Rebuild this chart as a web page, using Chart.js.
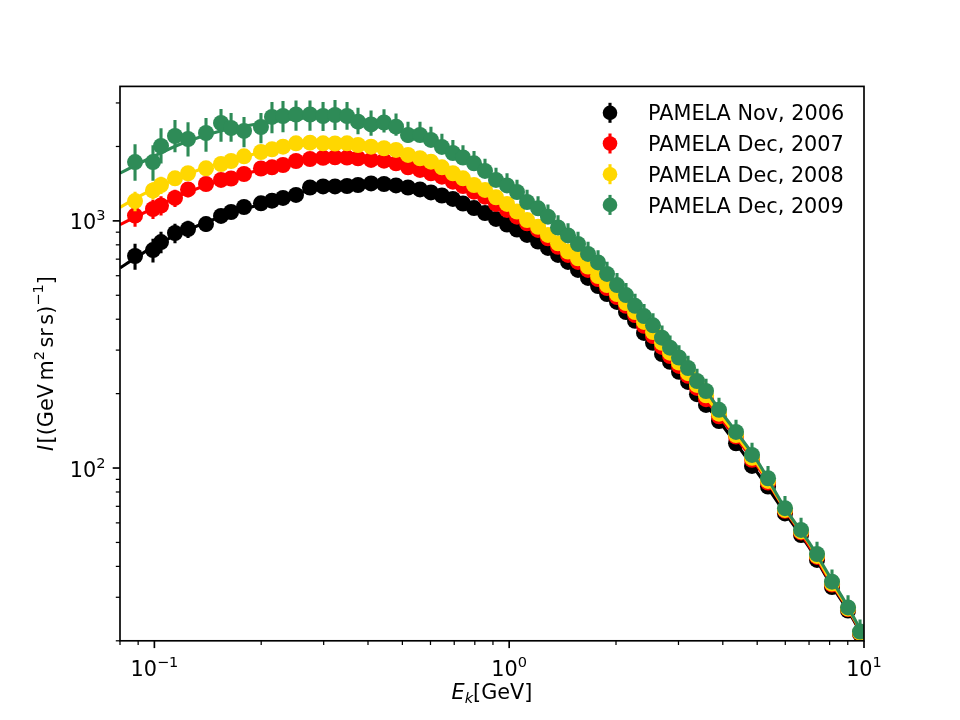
<!DOCTYPE html>
<html>
<head>
<meta charset="utf-8">
<title>PAMELA proton spectra</title>
<script src="https://cdn.jsdelivr.net/npm/chart.js@4.4.0/dist/chart.umd.min.js"></script>
<style>
  html, body { margin: 0; padding: 0; background: #fff; }
  #wrap { width: 960px; height: 720px; }
</style>
</head>
<body>
<div id="wrap"><canvas id="chart" width="960" height="720"></canvas></div>
<script>
// kinetic energy bins (GeV), shared by the four periods
const energy = [
  0.0882, 0.0991, 0.1044, 0.1143, 0.1244, 0.1398, 0.1541, 0.1645, 0.1789, 0.1997,
  0.2145, 0.2304, 0.2507, 0.2745, 0.2988, 0.3229, 0.3491, 0.3749, 0.4080, 0.4438,
  0.4798, 0.5186, 0.5605, 0.6018, 0.6462, 0.6939, 0.7409, 0.7959, 0.8547, 0.9180,
  0.9860, 1.052, 1.123, 1.206, 1.286, 1.373, 1.465, 1.563, 1.668, 1.780,
  1.887, 2.013, 2.134, 2.263, 2.399, 2.543, 2.696, 2.840, 3.010, 3.192,
  3.383, 3.587, 3.902, 4.358, 4.835, 5.364, 5.988, 6.646, 7.372, 8.125,
  9.016, 9.745
];

const fluxNov2006 = [
  721, 762, 821, 893, 927, 971, 1047, 1086, 1138, 1178,
  1207, 1238, 1273, 1365, 1378, 1378, 1384, 1397, 1417, 1410,
  1391, 1365, 1340, 1303, 1267, 1227, 1176, 1127, 1076, 1018,
  967, 923, 877, 825, 777, 728, 682, 633, 588, 545,
  506, 470, 428, 394, 352, 321, 289, 269, 245, 223,
  199, 180, 155, 126, 102, 84.2, 65.5, 53.6, 42.5, 33.0,
  26.5, 21.3
];
const fluxDec2007 = [
  1051, 1117, 1154, 1238, 1340, 1410, 1464, 1484, 1548, 1629,
  1647, 1683, 1747, 1780, 1801, 1808, 1804, 1792, 1764, 1752,
  1710, 1647, 1607, 1558, 1510, 1441, 1384, 1313, 1253, 1171,
  1107, 1040, 978, 919, 850, 786, 728, 682, 633, 582,
  535, 492, 453, 416, 376, 342, 309, 284, 259, 236,
  211, 190, 162, 134, 108, 87.4, 67.1, 54.9, 43.7, 33.8,
  26.9, 21.5
];
const fluxDec2008 = [
  1203, 1327, 1397, 1487, 1558, 1632, 1699, 1747, 1825, 1900,
  1948, 1996, 2060, 2072, 2060, 2056, 2060, 2028, 1996, 1967,
  1936, 1848, 1792, 1736, 1647, 1558, 1487, 1397, 1334, 1246,
  1171, 1090, 1008, 947, 877, 812, 751, 706, 653, 598,
  550, 506, 465, 428, 390, 355, 321, 293, 267, 242,
  217, 197, 166, 136, 110, 88.7, 67.7, 55.4, 44.1, 34.1,
  27.0, 21.6
];
const fluxDec2009 = [
  1730, 1730, 2009, 2205, 2144, 2268, 2489, 2376, 2311, 2398,
  2633, 2657, 2694, 2694, 2657, 2682, 2657, 2519, 2455, 2501,
  2405, 2226, 2226, 2125, 1991, 1882, 1805, 1710, 1592, 1464,
  1391, 1309, 1192, 1124, 1040, 940, 873, 806, 735, 679,
  610, 550, 501, 453, 412, 378, 337, 307, 280, 254,
  225, 205, 172, 140, 113, 90.9, 68.8, 56.2, 44.9, 34.7,
  27.3, 21.8
];

// error bars in percent of the flux
const errNov2006 = [
  12, 11, 10, 9, 8, 7, 6, 6, 5, 5,
  5, 5, 5, 4, 4, 4, 4, 4, 4, 4,
  4, 4, 4, 4, 4, 4, 4, 4, 4, 4,
  4, 4, 4, 4, 4, 4, 4, 4, 4, 4,
  4, 4, 4, 4, 4, 4, 4, 4, 4, 4,
  4, 4, 4, 4, 4, 4, 4, 4, 4, 4,
  4, 4
];
const errDec2007 = [
  10, 9, 9, 8, 7, 6, 6, 5, 5, 5,
  4, 4, 4, 4, 4, 4, 4, 4, 4, 4,
  4, 4, 4, 4, 4, 4, 4, 4, 4, 4,
  4, 4, 4, 4, 4, 4, 4, 4, 4, 4,
  4, 4, 4, 4, 4, 4, 4, 4, 4, 4,
  4, 4, 4, 4, 4, 4, 4, 4, 4, 4,
  4, 4
];
const errDec2008 = [
  9, 8, 8, 7, 7, 6, 5, 5, 5, 4,
  4, 4, 4, 4, 4, 4, 4, 4, 4, 4,
  4, 4, 4, 4, 4, 4, 4, 4, 4, 4,
  4, 4, 4, 4, 4, 4, 4, 4, 4, 4,
  4, 4, 4, 4, 4, 4, 4, 4, 4, 4,
  4, 4, 4, 4, 4, 4, 4, 4, 4, 4,
  4, 4
];
const errUpDec2009 = [
  18, 17, 18, 16, 17, 15, 14, 15, 14, 14,
  15, 15, 14, 14, 14, 15, 14, 14, 14, 13,
  13, 13, 13, 13, 13, 13, 12, 12, 12, 12,
  12, 12, 12, 12, 12, 12, 12, 12, 12, 12,
  12, 12, 12, 12, 12, 12, 12, 12, 12, 12,
  12, 12, 12, 12, 12, 12, 12, 12, 12, 12,
  12, 12
];
const errDnDec2009 = [
  16, 16, 15, 14, 15, 16, 16, 12, 14, 14,
  14, 14, 14, 14, 13, 13, 12, 11, 10, 9,
  8, 7, 6, 5, 5, 5, 5, 5, 5, 5,
  5, 5, 5, 5, 5, 5, 5, 5, 5, 5,
  5, 5, 5, 5, 5, 5, 5, 5, 5, 5,
  5, 5, 5, 5, 5, 5, 5, 5, 5, 5,
  5, 5
];

// model curves
const modelEnergy = [0.08, 0.09, 0.1, 0.12, 0.15, 0.2, 0.25, 0.3, 0.35, 0.4, 0.5, 0.6, 0.7, 0.8, 1, 1.25, 1.5, 2, 2.5, 3, 3.5, 4, 5, 6, 7, 8, 9, 10];
const modelNov2006 = [645, 720, 790, 900, 1025, 1170, 1290, 1355, 1390, 1405, 1380, 1310, 1220, 1125, 960, 800, 665, 470, 332, 248, 188, 148, 96, 65.5, 47.8, 34.5, 26.6, 20.4];
const modelDec2007 = [965, 1050, 1130, 1280, 1440, 1610, 1720, 1790, 1805, 1780, 1690, 1570, 1440, 1310, 1100, 880, 712, 496, 350, 260, 197, 155, 102, 67.5, 48.5, 35, 27, 20.6];
const modelDec2008 = [1135, 1250, 1350, 1520, 1700, 1890, 2000, 2060, 2060, 2020, 1890, 1720, 1550, 1400, 1160, 910, 738, 510, 365, 268, 203, 159, 104, 68, 49.5, 35.5, 27.2, 20.8];
const modelDec2009 = [1560, 1700, 1830, 2060, 2290, 2480, 2590, 2630, 2610, 2540, 2330, 2110, 1880, 1680, 1370, 1075, 850, 555, 390, 285, 215, 165, 107, 68.5, 50, 36.5, 27.5, 20.8];

const labels = ['PAMELA Nov, 2006', 'PAMELA Dec, 2007', 'PAMELA Dec, 2008', 'PAMELA Dec, 2009'];
const colors = ['#000000', '#ff0000', '#ffd700', '#2e8b57'];

const xMajorTicks = [0.1, 1, 10];
const xMinorTicks = [0.08, 0.09, 0.2, 0.3, 0.4, 0.5, 0.6, 0.7, 0.8, 0.9, 2, 3, 4, 5, 6, 7, 8, 9];
const yMajorTicks = [100, 1000];
const yMinorTicks = [20, 30, 40, 50, 60, 70, 80, 90, 200, 300, 400, 500, 600, 700, 800, 900, 2000, 3000];

const FONT = '"DejaVu Sans", sans-serif';
const FS = 20.8;

const series = [
  { flux: fluxNov2006, up: errNov2006, dn: errNov2006, model: modelNov2006 },
  { flux: fluxDec2007, up: errDec2007, dn: errDec2007, model: modelDec2007 },
  { flux: fluxDec2008, up: errDec2008, dn: errDec2008, model: modelDec2008 },
  { flux: fluxDec2009, up: errUpDec2009, dn: errDnDec2009, model: modelDec2009 },
];

const datasets = [];
series.forEach((s, i) => {
  // later periods are drawn on top (lower order = drawn later)
  datasets.push({
    label: labels[i] + ' model',
    data: modelEnergy.map((e, k) => ({ x: e, y: s.model[k] })),
    showLine: true,
    borderColor: colors[i],
    borderWidth: 3.1,
    pointRadius: 0,
    pointHoverRadius: 0,
    cubicInterpolationMode: 'monotone',
    clip: 0,
    order: 2 * (4 - i),
  });
  datasets.push({
    label: labels[i],
    data: energy.map((e, k) => ({ x: e, y: s.flux[k] })),
    backgroundColor: colors[i],
    borderColor: colors[i],
    borderWidth: 0,
    pointRadius: 8,
    pointHoverRadius: 8,
    clip: 0,
    order: 2 * (4 - i) - 1,
    errUp: s.up,
    errDn: s.dn,
  });
});

function fontOf(r) {
  return (r.it ? 'italic ' : '') + (FS * (r.s || 1)) + 'px ' + FONT;
}

// draw a row of text pieces (mathtext-like)
function drawRuns(ctx, runs, x, baseY, align) {
  let w = 0;
  runs.forEach(r => {
    ctx.font = fontOf(r);
    r.w = r.gap != null ? r.gap : ctx.measureText(r.t).width;
    w += r.w;
  });
  let cx = align === 'center' ? x - w / 2 : align === 'right' ? x - w : x;
  ctx.textAlign = 'left';
  ctx.textBaseline = 'alphabetic';
  runs.forEach(r => {
    if (r.t) {
      ctx.font = fontOf(r);
      ctx.fillText(r.t, cx, baseY + (r.dy || 0));
    }
    cx += r.w;
  });
}

function powRuns(v) {
  const e = Math.round(Math.log10(v));
  return [{ t: '10' }, { t: e < 0 ? '\u2212' + (-e) : String(e), s: 0.7, dy: -9 }];
}

const errorBars = {
  id: 'errorBars',
  beforeDatasetDraw(chart, args) {
    const ds = chart.data.datasets[args.index];
    if (!ds.errUp) return;
    const { ctx, chartArea: a } = chart;
    const xs = chart.scales.x, ys = chart.scales.y;
    ctx.save();
    ctx.beginPath();
    ctx.rect(a.left, a.top, a.right - a.left, a.bottom - a.top);
    ctx.clip();
    ctx.strokeStyle = ds.backgroundColor;
    ctx.lineWidth = 3.1;
    ds.data.forEach((p, i) => {
      const px = xs.getPixelForValue(p.x);
      ctx.beginPath();
      ctx.moveTo(px, ys.getPixelForValue(p.y * (1 + ds.errUp[i] / 100)));
      ctx.lineTo(px, ys.getPixelForValue(p.y * (1 - ds.errDn[i] / 100)));
      ctx.stroke();
    });
    ctx.restore();
  }
};

const axesDecor = {
  id: 'axesDecor',
  afterDraw(chart) {
    const { ctx, chartArea: a } = chart;
    const xs = chart.scales.x, ys = chart.scales.y;
    ctx.save();
    ctx.strokeStyle = '#000';
    ctx.fillStyle = '#000';

    // ticks
    const tick = (vals, len, lw, horiz) => {
      ctx.lineWidth = lw;
      vals.forEach(v => {
        ctx.beginPath();
        if (horiz) {
          const px = xs.getPixelForValue(v);
          ctx.moveTo(px, a.bottom);
          ctx.lineTo(px, a.bottom + len);
        } else {
          const py = ys.getPixelForValue(v);
          ctx.moveTo(a.left, py);
          ctx.lineTo(a.left - len, py);
        }
        ctx.stroke();
      });
    };
    tick(xMinorTicks, 4.2, 1.25, true);
    tick(xMajorTicks, 7.3, 1.67, true);
    tick(yMinorTicks, 4.2, 1.25, false);
    tick(yMajorTicks, 7.3, 1.67, false);

    // spines
    ctx.lineWidth = 1.67;
    ctx.strokeRect(a.left, a.top, a.right - a.left, a.bottom - a.top);

    // tick labels
    xMajorTicks.forEach(v => drawRuns(ctx, powRuns(v), xs.getPixelForValue(v), a.bottom + 35, 'center'));
    yMajorTicks.forEach(v => drawRuns(ctx, powRuns(v), a.left - 14.6, ys.getPixelForValue(v) + 8.6, 'right'));

    // axis titles
    drawRuns(ctx, [{ t: 'E', it: true }, { t: 'k', it: true, s: 0.7, dy: 4 }, { t: '[GeV]' }],
      (a.left + a.right) / 2, 699, 'center');
    ctx.save();
    ctx.translate(53, (a.top + a.bottom) / 2);
    ctx.rotate(-Math.PI / 2);
    drawRuns(ctx, [
      { t: 'I', it: true }, { gap: 1.5 }, { t: '[(GeV' }, { gap: 3.5 }, { t: 'm' },
      { t: '2', s: 0.7, dy: -9 }, { gap: 3.5 }, { t: 'sr' }, { gap: 3.5 }, { t: 's)' },
      { t: '\u22121', s: 0.7, dy: -10 }, { t: ']' }
    ], 0, 0, 'center');
    ctx.restore();

    // legend
    labels.forEach((lab, i) => {
      const cy = 112.8 + i * 30.7;
      ctx.strokeStyle = colors[i];
      ctx.fillStyle = colors[i];
      ctx.lineWidth = 3.1;
      ctx.beginPath();
      ctx.moveTo(610, cy - 10);
      ctx.lineTo(610, cy + 10);
      ctx.stroke();
      ctx.beginPath();
      ctx.arc(610, cy, 7.3, 0, Math.PI * 2);
      ctx.fill();
      ctx.fillStyle = '#000';
      drawRuns(ctx, [{ t: lab }], 648, cy + 7.6, 'left');
    });
    ctx.restore();
  }
};

new Chart(document.getElementById('chart'), {
  type: 'scatter',
  data: { datasets },
  options: {
    responsive: false,
    devicePixelRatio: 1,
    animation: false,
    events: [],
    layout: { padding: { left: 120, right: 96, top: 86.4, bottom: 79.2 } },
    plugins: {
      legend: { display: false },
      tooltip: { enabled: false },
    },
    scales: {
      x: { type: 'logarithmic', min: 0.08, max: 10, bounds: 'data', display: false },
      y: { type: 'logarithmic', min: 20, max: 3500, bounds: 'data', display: false },
    },
  },
  plugins: [errorBars, axesDecor],
});
</script>
</body>
</html>
